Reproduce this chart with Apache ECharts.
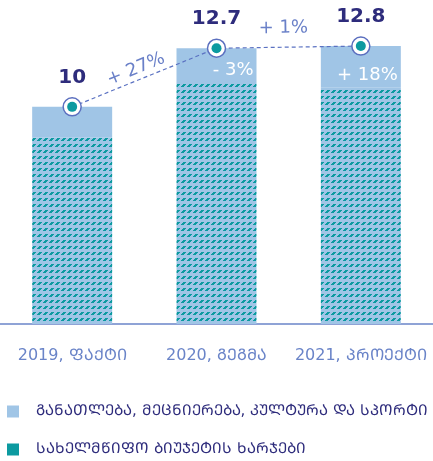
<!DOCTYPE html>
<html>
<head>
<meta charset="utf-8">
<script src="https://cdn.jsdelivr.net/npm/echarts@6/dist/echarts.min.js"></script>
<style>
  html, body { margin: 0; padding: 0; background: #fff; }
  #main { width: 433px; height: 461px; }
</style>
</head>
<body>
<div id="main"></div>
<script>
// 数据
const categories = ['2019, ᲤᲐᲥᲢᲘ', '2020, ᲒᲔᲒᲛᲐ', '2021, ᲞᲠᲝᲔᲥᲢᲘ'];
const budgetName = 'ᲡᲐᲮᲔᲚᲛᲬᲘᲤᲝ ᲑᲘᲣᲯᲔᲢᲘᲡ ᲮᲐᲠᲯᲔᲑᲘ';
const eduName = 'ᲒᲐᲜᲐᲗᲚᲔᲑᲐ, ᲛᲔᲪᲜᲘᲔᲠᲔᲑᲐ, ᲙᲣᲚᲢᲣᲠᲐ ᲓᲐ ᲡᲞᲝᲠᲢᲘ';
const budgetValues = [8.6, 11.15, 10.9];
const eduValues = [1.4, 1.55, 1.9];
const totals = [10, 12.7, 12.8];
const eduLabels = ['', '- 3%', '+ 18%'];
const growthLabels = ['+ 27%', '+ 1%'];

const LIGHT = '#a0c5e6';
const TEAL = '#0c9aa0';
const NAVY = '#2e2c7c';
const AXIS_BLUE = '#6a84c8';
const FONT = '"DejaVu Sans", "Noto Sans", sans-serif';

// 斜线纹理
function makePattern() {
    const c = document.createElement('canvas');
    c.width = 6; c.height = 6;
    const ctx = c.getContext('2d');
    ctx.fillStyle = LIGHT;
    ctx.fillRect(0, 0, 6, 6);
    ctx.fillStyle = TEAL;
    ctx.fillRect(3, 0, 3, 1);
    ctx.fillRect(2, 1, 3, 1);
    ctx.fillRect(1, 2, 3, 1);
    return c;
}

function initChart() {
    const chart = echarts.init(document.getElementById('main'));
    chart.setOption({
        animation: false,
        grid: { left: -1, right: -2, top: 20, bottom: 137 },
        legend: {
            orient: 'vertical',
            left: 7,
            top: 404,
            padding: 0,
            height: 60,
            itemWidth: 12,
            itemHeight: 12,
            itemGap: 23,
            icon: 'rect',
            selectedMode: false,
            textStyle: { color: NAVY, fontSize: 15, fontFamily: FONT, padding: [0, 0, 0, 12] },
            data: [
                { name: eduName, itemStyle: { color: LIGHT } },
                { name: budgetName, itemStyle: { color: TEAL } }
            ]
        },
        xAxis: {
            type: 'category',
            data: categories,
            axisLine: { lineStyle: { color: AXIS_BLUE, width: 1.5 } },
            axisTick: { show: false },
            axisLabel: { color: AXIS_BLUE, fontSize: 16, fontFamily: FONT, margin: 24, interval: 0 }
        },
        yAxis: { type: 'value', min: 0, max: 14, show: false, splitLine: { show: false } },
        series: [
            {
                name: budgetName,
                type: 'bar',
                stack: 'total',
                barWidth: 80,
                data: budgetValues,
                itemStyle: { color: { image: makePattern(), repeat: 'repeat' } }
            },
            {
                name: eduName,
                type: 'bar',
                stack: 'total',
                data: eduValues,
                itemStyle: { color: LIGHT },
                label: {
                    show: true,
                    position: 'insideBottomRight',
                    distance: 3,
                    color: '#fff',
                    fontSize: 18,
                    fontFamily: FONT,
                    formatter: p => eduLabels[p.dataIndex]
                }
            },
            {
                type: 'line',
                data: totals,
                showSymbol: false,
                z: 3,
                lineStyle: { color: '#5b72c2', width: 1.2, type: [4, 3] }
            },
            {
                type: 'scatter',
                data: totals,
                symbolSize: 18,
                z: 4,
                itemStyle: { color: '#fff', borderColor: '#5b6fbf', borderWidth: 1.5, opacity: 1 }
            },
            {
                type: 'scatter',
                data: totals,
                symbolSize: 10,
                z: 5,
                itemStyle: { color: TEAL, opacity: 1 },
                label: {
                    show: true,
                    position: 'top',
                    distance: 14,
                    color: NAVY,
                    fontSize: 20,
                    fontWeight: 'bold',
                    fontFamily: FONT
                }
            }
        ]
    });

    // 增长率标注
    const offsets = [9, 19];
    const graphics = growthLabels.map((txt, i) => {
        const a = chart.convertToPixel({ seriesIndex: 2 }, [i, totals[i]]);
        const b = chart.convertToPixel({ seriesIndex: 2 }, [i + 1, totals[i + 1]]);
        const ang = Math.atan2(a[1] - b[1], b[0] - a[0]);
        const mx = (a[0] + b[0]) / 2, my = (a[1] + b[1]) / 2;
        const off = offsets[i];
        return {
            type: 'text',
            x: mx - off * Math.sin(ang) - 5,
            y: my - off * Math.cos(ang),
            rotation: ang,
            style: {
                text: txt,
                fill: '#6a80c8',
                fontSize: 18,
                fontFamily: FONT,
                align: 'center',
                verticalAlign: 'middle'
            }
        };
    });
    chart.setOption({ graphic: graphics });
}

document.addEventListener('DOMContentLoaded', initChart);
</script>
</body>
</html>
